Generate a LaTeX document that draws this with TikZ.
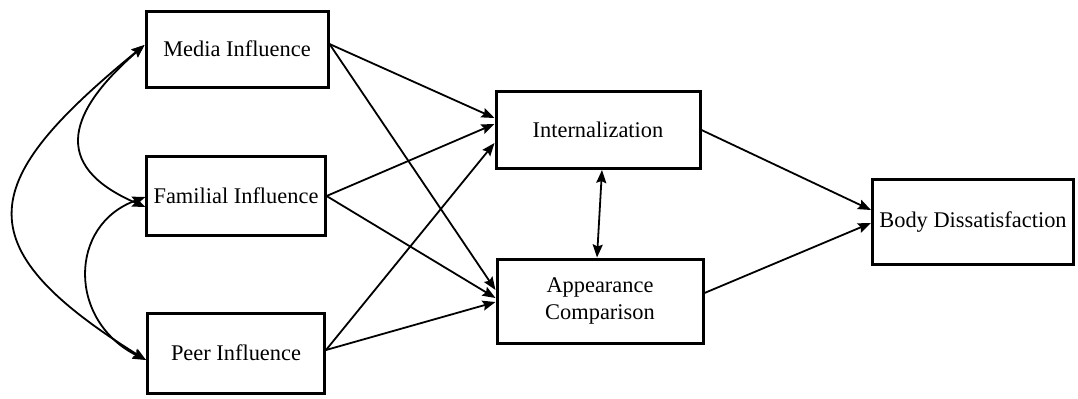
\documentclass[tikz,border=0pt]{standalone}
\usepackage{fontspec}
\setmainfont{Liberation Serif}
\usetikzlibrary{arrows.meta}
\begin{document}
\begin{tikzpicture}[x=0.5pt, y=-0.5pt, line width=0.9pt, >={Stealth[length=6.5pt, width=5pt, inset=1pt]},
    box/.style={rectangle, draw, line width=1.5pt, align=center, font=\fontsize{11.2}{13.5}\selectfont}]
    \useasboundingbox (0,0) rectangle (1078,398);

    \node[box, minimum width=91pt, minimum height=38pt] (media) at (237,49) {Media Influence};
    \node[box, minimum width=88.5pt, minimum height=39.5pt] (fam) at (236,196) {Familial Influence};
    \node[box, minimum width=88.5pt, minimum height=40pt] (peer) at (236,353) {Peer Influence};
    \node[box, minimum width=102pt, minimum height=38.5pt] (int) at (598,130) {Internalization};
    \node[box, minimum width=103pt, minimum height=42pt] (app) at (600,301) {Appearance\\Comparison};
    \node[box, minimum width=100.5pt, minimum height=42.5pt] (body) at (973,222) {Body Dissatisfaction};

    \draw[->] ([yshift=2.5pt]media.east) -- ([yshift=6pt]int.west);
    \draw[->] ([yshift=2.5pt]media.east) -- ([yshift=5.5pt]app.west);
    \draw[->] (fam.east) -- ([yshift=3pt]int.west);
    \draw[->] (fam.east) -- ([yshift=1.5pt]app.west);
    \draw[->] ([yshift=1.5pt]peer.east) -- ([yshift=-6.5pt]int.west);
    \draw[->] ([yshift=1.5pt]peer.east) -- ([yshift=-0.5pt]app.west);
    \draw[<->] ([xshift=2pt]int.south) -- ([xshift=-1.5pt]app.north);
    \draw[->] (int.east) -- ([yshift=6pt]body.west);
    \draw[->] ([yshift=4pt]app.east) -- ([yshift=-0.5pt]body.west);

    \draw[<->] ([yshift=2pt]media.west) .. controls (70,110) and (48,165) .. ([yshift=-5.5pt]fam.west);
    \draw[<->] ([yshift=2pt]media.west) .. controls (-20,180) and (-40,244) .. ([yshift=-3.5pt]peer.west);
    \draw[<->] ([yshift=-0.5pt]fam.west) .. controls (68,225) and (68,321) .. ([yshift=-3.5pt]peer.west);
\end{tikzpicture}
\end{document}
